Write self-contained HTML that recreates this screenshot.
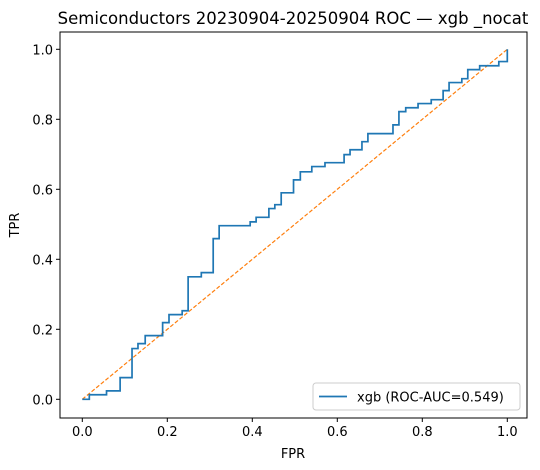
<!DOCTYPE html>
<html><head><meta charset="utf-8"><style>
html,body{margin:0;padding:0;background:#fff;}
svg{display:block;font-family:"DejaVu Sans","Liberation Sans",sans-serif;}
</style></head><body>
<svg id="chart" width="540" height="470"></svg>
<script>
const fprValues=[0,0.0165,0.057,0.089,0.117,0.131,0.148,0.189,0.204,0.235,0.249,0.28,0.308,0.322,0.395,0.409,0.439,0.453,0.468,0.497,0.513,0.540,0.571,0.616,0.630,0.658,0.672,0.731,0.745,0.761,0.790,0.821,0.849,0.863,0.893,0.907,0.935,0.980,1.0];
const tprValues=[0,0.013,0.024,0.062,0.145,0.159,0.182,0.219,0.242,0.253,0.350,0.362,0.459,0.496,0.507,0.520,0.545,0.556,0.590,0.627,0.650,0.665,0.676,0.699,0.713,0.736,0.759,0.784,0.822,0.833,0.845,0.856,0.882,0.905,0.916,0.942,0.953,0.965,1.0];
const xTickLabels=["0.0","0.2","0.4","0.6","0.8","1.0"];
const yTickLabels=["0.0","0.2","0.4","0.6","0.8","1.0"];
const aucLabel="0.549";

const NS="http://www.w3.org/2000/svg";
const svg=document.getElementById('chart');
const L=60,R=527,T=32,B=418;
const x=v=>82.3+v*425;
const y=v=>399.3-v*350;
function mk(tag,attrs,parent){const e=document.createElementNS(NS,tag);for(const k in attrs)e.setAttribute(k,attrs[k]);(parent||svg).appendChild(e);return e;}

const title=mk('text',{x:293,y:24,'text-anchor':'middle','font-size':'16.5',fill:'#000'});
title.textContent="Semiconductors 20230904-20250904 ROC — xgb _nocat";



xTickLabels.forEach(t=>{const v=parseFloat(t);
 const l=mk('line',{x1:x(v),x2:x(v),y1:B,y2:B+4,stroke:'#000','stroke-width':1});
 
 
 const tx=mk('text',{x:x(v),y:B+18,'text-anchor':'middle','font-size':'13',fill:'#000'});tx.textContent=t;
 
 
});
yTickLabels.forEach(t=>{const v=parseFloat(t);
 const l=mk('line',{x1:L-4,x2:L,y1:y(v),y2:y(v),stroke:'#000','stroke-width':1});
 
 
 const tx=mk('text',{x:L-7,y:y(v)+5,'text-anchor':'end','font-size':'13',fill:'#000'});tx.textContent=t;
 
 
});
const xl=mk('text',{x:293,y:458,'text-anchor':'middle','font-size':'13',fill:'#000'});xl.textContent="FPR";


const yl=mk('text',{x:0,y:0,'text-anchor':'middle','font-size':'13',fill:'#000',transform:`translate(19,${(T+B)/2}) rotate(-90)`});yl.textContent="TPR";



const diag=mk('line',{x1:x(0),y1:y(0),x2:x(1),y2:y(1),stroke:'#ff7f0e','stroke-width':1.2,'stroke-dasharray':'4,2'});



let d=`M${x(fprValues[0])},${y(tprValues[0])}`;
for(let i=1;i<fprValues.length;i++){d+=` L${x(fprValues[i])},${y(tprValues[i-1])} L${x(fprValues[i])},${y(tprValues[i])}`;}
const curve=mk('path',{d:d,fill:'none',stroke:'#1f77b4','stroke-width':1.7});



const frame=mk('rect',{x:L,y:T,width:R-L,height:B-T,fill:'none',stroke:'#000','stroke-width':1});



const lg=mk('g',{});


mk('rect',{x:313,y:383,width:207,height:27,rx:3,fill:'#fff',stroke:'#ccc','stroke-width':1},lg);
mk('line',{x1:319,x2:347,y1:396.5,y2:396.5,stroke:'#1f77b4','stroke-width':1.7},lg);
const lt=mk('text',{x:357,y:401.5,'font-size':'13',fill:'#000'},lg);lt.textContent=`xgb (ROC-AUC=${aucLabel})`;


</script>
</body></html>
